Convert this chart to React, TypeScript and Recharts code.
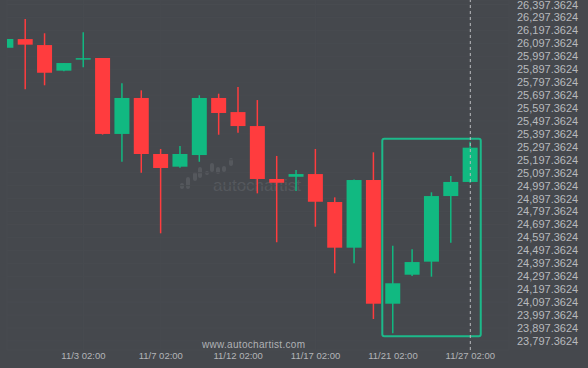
import { ComposedChart, Bar, XAxis, YAxis, CartesianGrid, ReferenceLine, ReferenceArea } from "recharts";

const dates = [
  "10/29 02:00", "10/30 02:00", "10/31 02:00", "11/2 02:00", "11/3 02:00",
  "11/4 02:00", "11/5 02:00", "11/6 02:00", "11/7 02:00", "11/9 02:00",
  "11/10 02:00", "11/11 02:00", "11/12 02:00", "11/13 02:00", "11/14 02:00",
  "11/16 02:00", "11/17 02:00", "11/18 02:00", "11/19 02:00", "11/20 02:00",
  "11/21 02:00", "11/23 02:00", "11/24 02:00", "11/26 02:00", "11/27 02:00",
];
const opens = [
  26063, 26130, 26084, 25886, 25979, 25984, 25397, 25675, 25242, 25144,
  25234, 25675, 25566, 25458, 25049, 25066, 25087, 24871, 24518, 25041,
  24085, 24309, 24410, 24917, 25026,
];
const highs = [
  26131, 26285, 26175, 25945, 26182, 25984, 25788, 25734, 25281, 25304,
  25696, 25708, 25760, 25659, 25227, 25118, 25281, 24907, 25045, 25255,
  24533, 24505, 24946, 25072, 25337,
];
const lows = [
  26063, 25742, 25773, 25881, 25912, 25392, 25182, 25097, 24629, 25136,
  25182, 25391, 25407, 24938, 24560, 24956, 24680, 24320, 24397, 23967,
  23856, 24299, 24294, 24556, 25020,
];
const closes = [
  26131, 26087, 25870, 25945, 25983, 25397, 25675, 25242, 25134, 25242,
  25675, 25559, 25458, 25049, 25020, 25087, 24873, 24518, 25041, 24085,
  24243, 24407, 24917, 25026, 25291,
];
const xTicks = [4, 8, 12, 16, 20, 24];
const yTicks = Array.from({ length: 27 }, (_, i) => 23797.3624 + i * 100);

// pattern box (breakout zone)
const boxStart = 19.45;
const boxEnd = 24.54;
const boxHigh = 25360;
const boxLow = 23833;
const markerIndex = 24;

const GREEN = "#11b981";
const RED = "#ff3c3e";
const BG = "#45484d";
const FONT = "'Liberation Sans', Arial, sans-serif";

const data = dates.map((d, i) => ({
  i,
  date: d,
  open: opens[i],
  high: highs[i],
  low: lows[i],
  close: closes[i],
}));

const Candle = (props: any) => {
  const { x, y, width, height, payload } = props;
  const { open, close, high, low } = payload;
  const color = close >= open ? GREEN : RED;
  const top0 = Math.min(y, y + height);
  const h = Math.abs(height);
  const toY = (v: number) => top0 + ((high - v) / (high - low)) * h;
  const cx = x + width / 2;
  const bTop = toY(Math.max(open, close));
  const bBot = toY(Math.min(open, close));
  return (
    <g>
      <line x1={cx} x2={cx} y1={top0} y2={top0 + h} stroke={color} strokeWidth={1.5} />
      <rect x={x} y={bTop} width={width} height={Math.max(bBot - bTop, 1.5)} fill={color} />
    </g>
  );
};

const fmt = (v: number) =>
  v.toLocaleString("en-US", { minimumFractionDigits: 4, maximumFractionDigits: 4 });

// right axis label; keep the top one inside the frame
const PriceTick = (props: any) => {
  const { x, y, payload } = props;
  return (
    <text x={x} y={Math.max(y, 5.5)} dy="0.355em" fill="#b8babd" fontSize={11} fontFamily={FONT}>
      {fmt(payload.value)}
    </text>
  );
};

function Watermark() {
  const bars = [
    [180, 183, 6], [186, 177, 12], [193, 172, 9], [198, 167, 11], [205, 171, 4],
    [210, 163, 9], [216, 167, 7], [222, 166, 6], [229, 158, 8],
  ];
  return (
    <svg width={588} height={368} style={{ position: "absolute", left: 0, top: 0 }}>
      {bars.map(([x, y, h], k) => (
        <rect key={k} x={x} y={y} width={4} height={h} rx={2} fill="#55585d" />
      ))}
      <text x={213} y={191} fontSize={17} fill="#55585d" fontFamily={FONT}>
        autochartist
      </text>
      <text x={202} y={348} fontSize={10} letterSpacing={0.3} fill="#b0b2b5" fontFamily={FONT}>
        www.autochartist.com
      </text>
    </svg>
  );
}

export default function App() {
  return (
    <div style={{ position: "absolute", left: 0, top: 0, width: 588, height: 368, background: BG }}>
      <Watermark />
      <div style={{ position: "absolute", left: 0, top: 0 }}>
        <ComposedChart
          width={588}
          height={368}
          data={data}
          margin={{ top: 0, right: 0, bottom: 0, left: 7 }}
        >
          <CartesianGrid stroke="#484b50" strokeWidth={1} />
          <XAxis
            dataKey="i"
            type="number"
            domain={[0.05, 26]}
            allowDataOverflow
            ticks={xTicks}
            tickFormatter={(v: number) => dates[v]}
            axisLine={false}
            tickLine={false}
            tickSize={0}
            tickMargin={2}
            height={18}
            tick={{ fill: "#b3b5b8", fontSize: 9.5, fontFamily: FONT }}
          />
          <YAxis
            orientation="right"
            domain={[23727.3, 26432.2]}
            allowDataOverflow
            ticks={yTicks}
            interval={0}
            axisLine={false}
            tickLine={false}
            tickSize={0}
            tickMargin={8}
            width={79}
            tick={<PriceTick />}
          />
          <Bar
            dataKey={(d: any) => [d.low, d.high]}
            barSize={15}
            shape={<Candle />}
            isAnimationActive={false}
          />
          <ReferenceArea
            x1={boxStart}
            x2={boxEnd}
            y1={boxLow}
            y2={boxHigh}
            fill="none"
            stroke="#1cb98a"
            strokeWidth={2}
            radius={2}
          />
          <ReferenceLine x={markerIndex} stroke="#b9bbbe" strokeDasharray="3 3" strokeWidth={1} />
        </ComposedChart>
      </div>
    </div>
  );
}
